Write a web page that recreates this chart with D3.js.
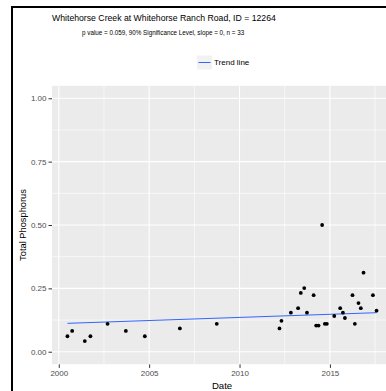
<!DOCTYPE html>
<html>
<head>
<meta charset="utf-8">
<script src="https://cdn.jsdelivr.net/npm/d3@7"></script>
<style>
  html, body { margin: 0; padding: 0; background: #fff; }
  svg { display: block; font-family: "Liberation Sans", Arial, sans-serif; }
</style>
</head>
<body>
<svg id="chart" width="386" height="391"></svg>
<script>
// Sample dates (decimal years) and total phosphorus results
const sampleYears = [
  2000.48, 2000.74, 2001.44, 2001.75, 2002.70, 2003.71, 2004.76, 2006.70, 2008.74,
  2012.21, 2012.32, 2012.84, 2013.24, 2013.39, 2013.58, 2013.73, 2014.10, 2014.24,
  2014.37, 2014.57, 2014.72, 2014.83, 2015.24, 2015.57, 2015.72, 2015.83, 2016.25,
  2016.38, 2016.58, 2016.71, 2016.86, 2017.38, 2017.58
];
const phosphorus = [
  0.061, 0.082, 0.042, 0.061, 0.110, 0.082, 0.061, 0.092, 0.110,
  0.092, 0.122, 0.154, 0.172, 0.232, 0.251, 0.154, 0.223, 0.103,
  0.103, 0.500, 0.110, 0.110, 0.141, 0.172, 0.154, 0.133, 0.223,
  0.110, 0.192, 0.172, 0.312, 0.223, 0.162
];

// Sen slope trend line end points
const trendYears = [2000.48, 2017.58];
const trendValues = [0.112, 0.154];

const xTicks = [2000, 2005, 2010, 2015];
const xMinor = [2002.5, 2007.5, 2012.5, 2017.5];
const yTicks = [0, 0.25, 0.5, 0.75, 1.0];
const yMinor = [0.125, 0.375, 0.625, 0.875];

const titleText = "Whitehorse Creek at Whitehorse Ranch Road, ID = 12264";
const subtitleText = "p value = 0.059, 90% Significance Level, slope = 0, n = 33";
const legendLabel = "Trend line";
const xTitle = "Date";
const yTitle = "Total Phosphorus";

const svg = d3.select("#chart");
const W = 386, H = 391;
const panel = { left: 52, top: 85.6, right: 392, bottom: 364.4 };

// x domain: data extent padded by 5% on each side
const ext = d3.extent(sampleYears);
const pad = (ext[1] - ext[0]) * 0.05;
const x = d3.scaleLinear().domain([ext[0] - pad, ext[1] + pad]).range([panel.left, panel.right]);
const y = d3.scaleLinear().domain([-0.05, 1.05]).range([panel.bottom, panel.top]);

svg.append("rect").attr("width", W).attr("height", H).attr("fill", "#fff");

svg.append("clipPath").attr("id", "clip")
  .append("rect").attr("x", panel.left).attr("y", panel.top)
  .attr("width", panel.right - panel.left).attr("height", panel.bottom - panel.top);

const plot = svg.append("g").attr("clip-path", "url(#clip)");

plot.append("rect")
  .attr("x", panel.left).attr("y", panel.top)
  .attr("width", panel.right - panel.left).attr("height", panel.bottom - panel.top)
  .attr("fill", "#EBEBEB");

// minor grid
plot.selectAll(".ymin").data(yMinor).join("line")
  .attr("x1", panel.left).attr("x2", panel.right)
  .attr("y1", d => y(d)).attr("y2", d => y(d))
  .attr("stroke", "#fff").attr("stroke-width", 0.6);
plot.selectAll(".xmin").data(xMinor).join("line")
  .attr("y1", panel.top).attr("y2", panel.bottom)
  .attr("x1", d => x(d)).attr("x2", d => x(d))
  .attr("stroke", "#fff").attr("stroke-width", 0.6);
// major grid
plot.selectAll(".ymaj").data(yTicks).join("line")
  .attr("x1", panel.left).attr("x2", panel.right)
  .attr("y1", d => y(d)).attr("y2", d => y(d))
  .attr("stroke", "#fff").attr("stroke-width", 1.1);
plot.selectAll(".xmaj").data(xTicks).join("line")
  .attr("y1", panel.top).attr("y2", panel.bottom)
  .attr("x1", d => x(d)).attr("x2", d => x(d))
  .attr("stroke", "#fff").attr("stroke-width", 1.1);

// trend line
plot.append("path")
  .datum(trendYears.map((t, i) => [t, trendValues[i]]))
  .attr("d", d3.line().x(d => x(d[0])).y(d => y(d[1])))
  .attr("fill", "none").attr("stroke", "#3366FF").attr("stroke-width", 1);

// observations
plot.selectAll(".pt").data(sampleYears.map((t, i) => [t, phosphorus[i]])).join("circle")
  .attr("cx", d => x(d[0])).attr("cy", d => y(d[1]))
  .attr("r", 1.9).attr("fill", "#000");

// axes
const yAxis = d3.axisLeft(y).tickValues(yTicks).tickFormat(d3.format(".2f")).tickSize(3.5).tickPadding(2);
const gy = svg.append("g").attr("transform", `translate(${panel.left},0)`).call(yAxis);
const xAxis = d3.axisBottom(x).tickValues(xTicks).tickFormat(d3.format("d")).tickSize(3.5).tickPadding(2);
const gx = svg.append("g").attr("transform", `translate(0,${panel.bottom})`).call(xAxis);
[gy, gx].forEach(g => {
  g.select(".domain").remove();
  g.selectAll(".tick line").attr("stroke", "#333").attr("stroke-width", 1);
  g.selectAll(".tick text").attr("fill", "#4D4D4D").attr("font-size", "8px")
    .attr("font-family", "Liberation Sans, Arial, sans-serif");
});

// axis titles
svg.append("text").attr("x", x(2010) - 17.5).attr("y", 388.5)
  .attr("text-anchor", "middle").attr("font-size", "9.6px").attr("fill", "#000").text(xTitle);
svg.append("text").attr("transform", `translate(26,${(panel.top + panel.bottom) / 2}) rotate(-90)`)
  .attr("text-anchor", "middle").attr("font-size", "9.3px").attr("fill", "#000").text(yTitle);

// titles
svg.append("text").attr("x", 52).attr("y", 20.5)
  .attr("font-size", "8.7px").attr("fill", "#000").text(titleText);
svg.append("text").attr("x", 82).attr("y", 34.5)
  .attr("font-size", "6.3px").attr("fill", "#000").text(subtitleText);

// legend
const lg = svg.append("g");
lg.append("rect").attr("x", 197).attr("y", 55.5).attr("width", 15).attr("height", 14)
  .attr("fill", "#F2F2F2");
lg.append("line").attr("x1", 198.5).attr("x2", 210.5).attr("y1", 62.5).attr("y2", 62.5)
  .attr("stroke", "#3366FF").attr("stroke-width", 1);
lg.append("text").attr("x", 214).attr("y", 65.3).attr("font-size", "8px").attr("fill", "#000").text(legendLabel);

// outer frame
svg.append("path").attr("d", `M12,${H} L12,7 L${W},7`)
  .attr("fill", "none").attr("stroke", "#000").attr("stroke-width", 2);
</script>
</body>
</html>
